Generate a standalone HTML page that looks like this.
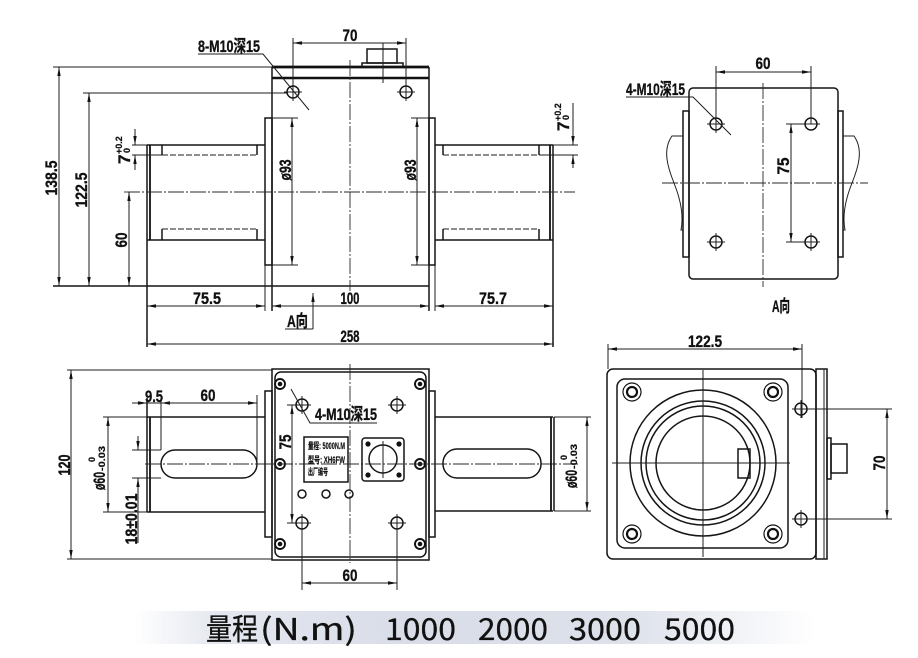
<!DOCTYPE html>
<html><head><meta charset="utf-8">
<style>
html,body{margin:0;padding:0;background:#fff;width:918px;height:658px;overflow:hidden}
.bar{position:absolute;left:135px;top:611px;width:680px;height:33px;background:linear-gradient(to right,rgba(255,255,255,0),#e4e7ef 12%,#d9dde8 40%,#dde1ea 72%,rgba(255,255,255,0))}
svg{position:absolute;left:0;top:0}
.o{stroke:#151515;stroke-width:1.5;fill:none}
.d{stroke:#1e1e1e;stroke-width:1;fill:none}
.c{stroke:#2a2a2a;stroke-width:0.9;stroke-dasharray:16 2 2 2;fill:none}
.k{stroke:#1e1e1e;stroke-width:1;stroke-dasharray:6 2;fill:none}
.t{font-family:"Liberation Sans","Noto Sans CJK SC",sans-serif;font-weight:bold;font-size:17px;fill:#111;stroke:#111;stroke-width:0.35}
.s{font-family:"Liberation Sans","Noto Sans CJK SC",sans-serif;font-weight:bold;font-size:9px;fill:#111;stroke:#111;stroke-width:0.2}
.f{font-family:"Noto Sans CJK SC","Liberation Sans",sans-serif;font-size:30px;font-weight:400;fill:#111;stroke:#111;stroke-width:0.3}
</style></head>
<body>
<div class="bar"></div>
<svg width="918" height="658" viewBox="0 0 918 658" xmlns="http://www.w3.org/2000/svg">
<defs>
<marker id="m" viewBox="0 0 9 4" refX="9" refY="2" markerWidth="9" markerHeight="4" orient="auto-start-reverse" markerUnits="userSpaceOnUse"><path d="M0,0.3L9,2L0,3.7z" fill="#111"/></marker>
</defs>

<!-- ================= TOP-LEFT FRONT VIEW ================= -->
<line x1="272" y1="67" x2="429" y2="67" stroke="#111" stroke-width="2.8"/>
<line x1="272" y1="78" x2="429" y2="78" stroke="#111" stroke-width="2.4"/>
<line class="d" x1="53" y1="67" x2="272" y2="67"/>
<line class="o" x1="272" y1="67" x2="272" y2="311"/>
<line class="o" x1="429" y1="67" x2="429" y2="311"/>
<line class="o" x1="53" y1="286" x2="429" y2="286"/>
<rect class="o" x="265" y="118" width="7" height="147"/>
<line class="d" x1="265" y1="265" x2="265" y2="311"/>
<rect class="o" x="429" y="118" width="6" height="147"/>
<line class="d" x1="435" y1="265" x2="435" y2="311"/>
<line class="d" x1="272" y1="118" x2="298" y2="118"/>
<line class="d" x1="272" y1="265" x2="298" y2="265"/>
<path class="d" d="M292,118V265" marker-start="url(#m)" marker-end="url(#m)"/>
<text class="t" transform="translate(291,170) rotate(-90)" text-anchor="middle" textLength="21" lengthAdjust="spacingAndGlyphs">ø93</text>
<line class="d" x1="411" y1="118" x2="429" y2="118"/>
<line class="d" x1="411" y1="265" x2="429" y2="265"/>
<path class="d" d="M417,118V265" marker-start="url(#m)" marker-end="url(#m)"/>
<text class="t" transform="translate(416,170) rotate(-90)" text-anchor="middle" textLength="21" lengthAdjust="spacingAndGlyphs">ø93</text>
<line class="o" x1="147" y1="145" x2="265" y2="145"/>
<line class="o" x1="147" y1="240" x2="265" y2="240"/>
<line class="o" x1="147" y1="145" x2="147" y2="347"/>
<line stroke="#111" stroke-width="1.8" x1="150" y1="145" x2="150" y2="240"/>
<line class="o" x1="162" y1="145" x2="162" y2="155"/>
<line class="o" x1="257" y1="145" x2="257" y2="155"/>
<line class="k" x1="162" y1="155" x2="257" y2="155"/>
<line class="o" x1="162" y1="229" x2="162" y2="240"/>
<line class="o" x1="257" y1="229" x2="257" y2="240"/>
<line class="k" x1="162" y1="229" x2="257" y2="229"/>
<line class="d" x1="132" y1="145" x2="147" y2="145"/>
<line class="d" x1="132" y1="155" x2="162" y2="155"/>
<line class="o" x1="435" y1="145" x2="553" y2="145"/>
<line class="o" x1="435" y1="240" x2="553" y2="240"/>
<line class="o" x1="553" y1="145" x2="553" y2="347"/>
<line stroke="#111" stroke-width="1.8" x1="550" y1="145" x2="550" y2="240"/>
<line class="o" x1="443" y1="145" x2="443" y2="155"/>
<line class="o" x1="539" y1="145" x2="539" y2="155"/>
<line class="k" x1="443" y1="155" x2="539" y2="155"/>
<line class="o" x1="443" y1="229" x2="443" y2="240"/>
<line class="o" x1="539" y1="229" x2="539" y2="240"/>
<line class="k" x1="443" y1="229" x2="539" y2="229"/>
<line class="d" x1="553" y1="145" x2="578" y2="145"/>
<line class="d" x1="539" y1="155" x2="578" y2="155"/>
<line class="c" x1="124" y1="192" x2="575" y2="192"/>
<line class="c" x1="350" y1="60" x2="350" y2="291"/>
<g class="o">
<circle cx="293" cy="92" r="6"/><circle cx="406" cy="92" r="6"/>
</g>
<g class="d">
<line x1="284" y1="92" x2="302" y2="92"/><line x1="397" y1="92" x2="415" y2="92"/>
<line x1="406" y1="83" x2="406" y2="101"/>
</g>
<rect class="o" x="367" y="49" width="30" height="14"/>
<rect class="o" x="362" y="63" width="41" height="4"/>
<line class="d" x1="383" y1="43" x2="383" y2="83"/>
<line class="d" x1="293" y1="38" x2="293" y2="101"/>
<line class="d" x1="406" y1="38" x2="406" y2="84"/>
<path class="d" d="M293,43H406" marker-start="url(#m)" marker-end="url(#m)"/>
<text class="t" x="350" y="41" text-anchor="middle" textLength="15" lengthAdjust="spacingAndGlyphs">70</text>
<text class="t" x="198" y="52" font-size="15" textLength="62" lengthAdjust="spacingAndGlyphs">8-M10深15</text>
<polyline class="d" points="198,54 263,54 309,110"/>
<path class="d" d="M59,67V286" marker-start="url(#m)" marker-end="url(#m)"/>
<text class="t" transform="translate(57,178) rotate(-90)" text-anchor="middle" textLength="35" lengthAdjust="spacingAndGlyphs">138.5</text>
<line class="d" x1="83" y1="93" x2="287" y2="93"/>
<path class="d" d="M89,93V286" marker-start="url(#m)" marker-end="url(#m)"/>
<text class="t" transform="translate(87,190) rotate(-90)" text-anchor="middle" textLength="35" lengthAdjust="spacingAndGlyphs">122.5</text>
<path class="d" d="M129,192V286" marker-start="url(#m)" marker-end="url(#m)"/>
<text class="t" transform="translate(127,240) rotate(-90)" text-anchor="middle" textLength="15" lengthAdjust="spacingAndGlyphs">60</text>
<path class="d" d="M135,129V145" marker-end="url(#m)"/>
<path class="d" d="M135,170V155" marker-end="url(#m)"/>
<g transform="translate(130,164) rotate(-90)">
<text class="t" x="0" y="0" font-size="15">7</text>
<text class="s" x="11" y="0" font-size="8">0</text>
<text class="s" x="10" y="-8" font-size="8">+0.2</text>
</g>
<path class="d" d="M573,103V145" marker-end="url(#m)"/>
<path class="d" d="M573,168V155" marker-end="url(#m)"/>
<g transform="translate(569,131) rotate(-90)">
<text class="t" x="0" y="0" font-size="15">7</text>
<text class="s" x="11" y="0" font-size="8">0</text>
<text class="s" x="10" y="-8" font-size="8">+0.2</text>
</g>
<path class="d" d="M147,306H265" marker-start="url(#m)" marker-end="url(#m)"/>
<text class="t" x="207" y="304" text-anchor="middle" textLength="28" lengthAdjust="spacingAndGlyphs">75.5</text>
<path class="d" d="M272,306H429" marker-start="url(#m)" marker-end="url(#m)"/>
<text class="t" x="350" y="304" text-anchor="middle" textLength="19" lengthAdjust="spacingAndGlyphs">100</text>
<path class="d" d="M435,306H553" marker-start="url(#m)" marker-end="url(#m)"/>
<text class="t" x="493" y="304" text-anchor="middle" textLength="28" lengthAdjust="spacingAndGlyphs">75.7</text>
<path class="d" d="M147,344H553" marker-start="url(#m)" marker-end="url(#m)"/>
<text class="t" x="350" y="342" text-anchor="middle" textLength="19" lengthAdjust="spacingAndGlyphs">258</text>
<text class="t" x="287" y="327" font-size="14" textLength="21" lengthAdjust="spacingAndGlyphs">A向</text>
<line class="d" x1="285" y1="329" x2="313" y2="329"/>
<path class="d" d="M313,329V293" marker-end="url(#m)"/>

<!-- ================= TOP-RIGHT A VIEW ================= -->
<rect class="o" x="689" y="88" width="149" height="191" rx="4"/>
<rect class="o" x="683" y="111" width="6" height="146"/>
<rect class="o" x="838" y="111" width="5" height="146"/>
<path class="d" d="M683,136L672,136C662,150 668,168 674,183C680,198 684,215 681,230L683,230"/>
<path class="d" d="M843,136L854,136C864,150 858,168 852,183C846,198 842,215 845,230L843,230"/>
<line class="c" x1="763" y1="83" x2="763" y2="287"/>
<line class="c" x1="662" y1="183" x2="868" y2="183"/>
<g class="o">
<circle cx="716" cy="124" r="6"/><circle cx="811" cy="124" r="6"/>
<circle cx="716" cy="242" r="6"/><circle cx="811" cy="242" r="6"/>
</g>
<g class="d">
<line x1="707" y1="124" x2="725" y2="124"/><line x1="716" y1="115" x2="716" y2="133"/>
<line x1="802" y1="124" x2="820" y2="124"/>
<line x1="707" y1="242" x2="725" y2="242"/><line x1="716" y1="233" x2="716" y2="251"/>
<line x1="802" y1="242" x2="820" y2="242"/><line x1="811" y1="233" x2="811" y2="251"/>
</g>
<line class="d" x1="716" y1="66" x2="716" y2="124"/>
<line class="d" x1="811" y1="66" x2="811" y2="124"/>
<path class="d" d="M716,72H811" marker-start="url(#m)" marker-end="url(#m)"/>
<text class="t" x="763" y="69" text-anchor="middle" textLength="15" lengthAdjust="spacingAndGlyphs">60</text>
<line class="d" x1="786" y1="124" x2="811" y2="124"/>
<line class="d" x1="786" y1="242" x2="811" y2="242"/>
<path class="d" d="M791,124V242" marker-start="url(#m)" marker-end="url(#m)"/>
<text class="t" transform="translate(789,166) rotate(-90)" text-anchor="middle" textLength="17" lengthAdjust="spacingAndGlyphs">75</text>
<text class="t" x="626" y="95" font-size="15" textLength="59" lengthAdjust="spacingAndGlyphs">4-M10深15</text>
<polyline class="d" points="626,97 693,97 731,135"/>
<text class="t" x="781" y="312" text-anchor="middle" font-size="14" textLength="18" lengthAdjust="spacingAndGlyphs">A向</text>

<!-- ================= BOTTOM-LEFT VIEW ================= -->
<line class="d" x1="67" y1="370" x2="272" y2="370"/>
<line class="d" x1="67" y1="559" x2="272" y2="559"/>
<path class="d" d="M71,370V559" marker-start="url(#m)" marker-end="url(#m)"/>
<text class="t" transform="translate(70,465) rotate(-90)" text-anchor="middle" textLength="21" lengthAdjust="spacingAndGlyphs">120</text>
<line class="o" x1="147" y1="417" x2="265" y2="417"/>
<line class="o" x1="147" y1="512" x2="265" y2="512"/>
<line class="o" x1="147" y1="398" x2="147" y2="512"/>
<line stroke="#111" stroke-width="1.8" x1="150" y1="417" x2="150" y2="512"/>
<rect class="o" x="161" y="450" width="96" height="28" rx="14"/>
<line class="d" x1="103" y1="417" x2="147" y2="417"/>
<line class="d" x1="103" y1="512" x2="147" y2="512"/>
<path class="d" d="M108,417V512" marker-start="url(#m)" marker-end="url(#m)"/>
<g transform="translate(105,490) rotate(-90)">
<text class="t" x="0" y="0" font-size="14" textLength="18" lengthAdjust="spacingAndGlyphs">ø60</text>
<text class="s" x="19" y="0" textLength="25" lengthAdjust="spacingAndGlyphs">-0.03</text>
<text class="s" x="28" y="-10">0</text>
</g>
<line class="d" x1="132" y1="450" x2="161" y2="450"/>
<line class="d" x1="132" y1="478" x2="161" y2="478"/>
<path class="d" d="M138,436V450" marker-end="url(#m)"/>
<path class="d" d="M138,543V478" marker-end="url(#m)"/>
<text class="t" transform="translate(137,519) rotate(-90)" text-anchor="middle" textLength="51" lengthAdjust="spacingAndGlyphs">18±0.01</text>
<line class="d" x1="161" y1="398" x2="161" y2="450"/>
<line class="d" x1="257" y1="395" x2="257" y2="465"/>
<path class="d" d="M132,403H147" marker-end="url(#m)"/>
<path class="d" d="M161,403H257" marker-start="url(#m)" marker-end="url(#m)"/>
<line class="d" x1="147" y1="403" x2="170" y2="403"/>
<text class="t" x="154" y="402" text-anchor="middle" textLength="18" lengthAdjust="spacingAndGlyphs">9.5</text>
<text class="t" x="208" y="401" text-anchor="middle" textLength="15" lengthAdjust="spacingAndGlyphs">60</text>
<rect class="o" x="265" y="391" width="7" height="146"/>
<rect class="o" x="429" y="391" width="6" height="146"/>
<rect class="o" x="272" y="369" width="157" height="191"/>
<rect class="o" x="275" y="372" width="151" height="185" rx="6"/>
<g>
<circle cx="280" cy="384" r="5" fill="none" stroke="#111" stroke-width="1.9"/><circle cx="280" cy="384" r="2.3" fill="#111"/>
<circle cx="420" cy="384" r="5" fill="none" stroke="#111" stroke-width="1.9"/><circle cx="420" cy="384" r="2.3" fill="#111"/>
<circle cx="280" cy="464" r="5" fill="none" stroke="#111" stroke-width="1.9"/><circle cx="280" cy="464" r="2.3" fill="#111"/>
<circle cx="420" cy="464" r="5" fill="none" stroke="#111" stroke-width="1.9"/><circle cx="420" cy="464" r="2.3" fill="#111"/>
<circle cx="280" cy="544" r="5" fill="none" stroke="#111" stroke-width="1.9"/><circle cx="280" cy="544" r="2.3" fill="#111"/>
<circle cx="420" cy="544" r="5" fill="none" stroke="#111" stroke-width="1.9"/><circle cx="420" cy="544" r="2.3" fill="#111"/>
</g>
<g class="o">
<circle cx="302" cy="405" r="6"/><circle cx="397" cy="405" r="6"/>
<circle cx="302" cy="523" r="6"/><circle cx="397" cy="523" r="6"/>
</g>
<g class="d">
<line x1="293" y1="405" x2="311" y2="405"/><line x1="302" y1="396" x2="302" y2="414"/>
<line x1="388" y1="405" x2="406" y2="405"/><line x1="397" y1="396" x2="397" y2="414"/>
<line x1="287" y1="523" x2="311" y2="523"/><line x1="302" y1="514" x2="302" y2="590"/>
<line x1="388" y1="523" x2="406" y2="523"/><line x1="397" y1="514" x2="397" y2="590"/>
<line x1="287" y1="405" x2="302" y2="405"/>
</g>
<path class="d" d="M292,405V523" marker-start="url(#m)" marker-end="url(#m)"/>
<text class="t" transform="translate(291,442) rotate(-90)" text-anchor="middle" textLength="15" lengthAdjust="spacingAndGlyphs">75</text>
<polyline class="d" points="291,389 310,423 377,423"/>
<text class="t" x="315" y="420" font-size="15" textLength="62" lengthAdjust="spacingAndGlyphs">4-M10深15</text>
<rect class="o" x="304" y="437" width="44" height="45" stroke-width="1.2"/>
<text class="s" x="308" y="449" font-size="6" textLength="37" lengthAdjust="spacingAndGlyphs">量程: 5000N.M</text>
<text class="s" x="308" y="463" font-size="6" textLength="37" lengthAdjust="spacingAndGlyphs">型号: XH6FW</text>
<text class="s" x="308" y="475" font-size="6" textLength="20" lengthAdjust="spacingAndGlyphs">出厂编号</text>
<rect class="o" x="362" y="438" width="42" height="43" rx="3"/>
<circle class="o" cx="383" cy="459" r="14"/>
<g fill="#111">
<circle cx="368" cy="444" r="2.6"/><circle cx="399" cy="444" r="2.6"/>
<circle cx="368" cy="475" r="2.6"/><circle cx="399" cy="475" r="2.6"/>
</g>
<line class="d" x1="383" y1="441" x2="383" y2="478"/>
<g class="o" stroke-width="1.2">
<circle cx="302" cy="494" r="4"/><circle cx="326" cy="494" r="4"/><circle cx="349" cy="494" r="4"/>
</g>
<line class="c" x1="350" y1="364" x2="350" y2="563"/>
<line class="c" x1="145" y1="464" x2="578" y2="464"/>
<path class="d" d="M302,583H397" marker-start="url(#m)" marker-end="url(#m)"/>
<text class="t" x="350" y="581" text-anchor="middle" textLength="15" lengthAdjust="spacingAndGlyphs">60</text>
<line class="o" x1="435" y1="417" x2="553" y2="417"/>
<line class="o" x1="435" y1="511" x2="553" y2="511"/>
<line class="o" x1="554" y1="417" x2="554" y2="511"/>
<line stroke="#111" stroke-width="1.8" x1="551" y1="417" x2="551" y2="511"/>
<rect class="o" x="443" y="449" width="98" height="29" rx="14"/>
<line class="d" x1="554" y1="417" x2="591" y2="417"/>
<line class="d" x1="554" y1="511" x2="591" y2="511"/>
<path class="d" d="M587,417V511" marker-start="url(#m)" marker-end="url(#m)"/>
<g transform="translate(577,488) rotate(-90)">
<text class="t" x="0" y="0" font-size="14" textLength="18" lengthAdjust="spacingAndGlyphs">ø60</text>
<text class="s" x="19" y="0" textLength="25" lengthAdjust="spacingAndGlyphs">-0.03</text>
<text class="s" x="28" y="-10">0</text>
</g>

<!-- ================= BOTTOM-RIGHT VIEW ================= -->
<line class="d" x1="608" y1="344" x2="608" y2="369"/>
<line class="d" x1="802" y1="344" x2="802" y2="418"/>
<path class="d" d="M608,349H802" marker-start="url(#m)" marker-end="url(#m)"/>
<text class="t" x="705" y="347" text-anchor="middle" textLength="34" lengthAdjust="spacingAndGlyphs">122.5</text>
<rect class="o" x="607" y="369" width="209" height="190" rx="6"/>
<rect class="o" x="816" y="369" width="11" height="190"/>
<line class="d" x1="824" y1="369" x2="824" y2="559"/>
<rect class="o" x="617" y="379" width="171" height="169" rx="8"/>
<g>
<circle cx="632" cy="392" r="9" fill="none" stroke="#111" stroke-width="1.2"/><circle cx="632" cy="392" r="5" fill="none" stroke="#111" stroke-width="2.2"/>
<circle cx="773" cy="392" r="9" fill="none" stroke="#111" stroke-width="1.2"/><circle cx="773" cy="392" r="5" fill="none" stroke="#111" stroke-width="2.2"/>
<circle cx="632" cy="534" r="9" fill="none" stroke="#111" stroke-width="1.2"/><circle cx="632" cy="534" r="5" fill="none" stroke="#111" stroke-width="2.2"/>
<circle cx="773" cy="534" r="9" fill="none" stroke="#111" stroke-width="1.2"/><circle cx="773" cy="534" r="5" fill="none" stroke="#111" stroke-width="2.2"/>
</g>
<g class="o">
<circle cx="703" cy="463" r="73"/>
<circle cx="703" cy="463" r="62"/>
<circle cx="703" cy="463" r="57"/>
<circle cx="703" cy="463" r="47"/>
</g>
<rect class="o" x="738" y="449" width="12" height="29" fill="#fff"/>
<line class="d" x1="703" y1="370" x2="703" y2="557"/>
<line class="d" x1="612" y1="463" x2="790" y2="463"/>
<g class="o">
<circle cx="801" cy="409" r="6"/><circle cx="801" cy="519" r="6"/>
</g>
<g class="d">
<line x1="792" y1="409" x2="892" y2="409"/><line x1="801" y1="400" x2="801" y2="418"/>
<line x1="792" y1="519" x2="892" y2="519"/><line x1="801" y1="510" x2="801" y2="528"/>
</g>
<path class="d" d="M887,409V519" marker-start="url(#m)" marker-end="url(#m)"/>
<text class="t" transform="translate(885,463) rotate(-90)" text-anchor="middle" textLength="15" lengthAdjust="spacingAndGlyphs">70</text>
<rect class="o" x="827" y="438" width="4" height="41"/>
<rect class="o" x="831" y="444" width="16" height="29"/>

<!-- ================= FOOTER ================= -->
<text class="f" x="206" y="640" textLength="52" lengthAdjust="spacingAndGlyphs">量程</text>
<text class="f" x="260" y="640" textLength="97" lengthAdjust="spacingAndGlyphs">(N.m)</text>
<text class="f" x="385" y="640" textLength="71" lengthAdjust="spacingAndGlyphs">1000</text>
<text class="f" x="478" y="640" textLength="70" lengthAdjust="spacingAndGlyphs">2000</text>
<text class="f" x="569" y="640" textLength="72" lengthAdjust="spacingAndGlyphs">3000</text>
<text class="f" x="664" y="640" textLength="71" lengthAdjust="spacingAndGlyphs">5000</text>
</svg>
</body></html>
